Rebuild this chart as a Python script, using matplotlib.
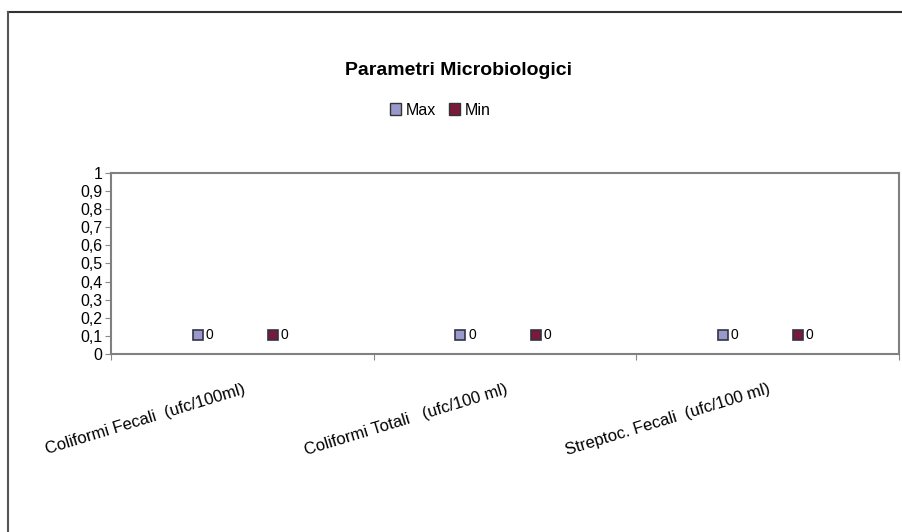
import matplotlib
matplotlib.use("Agg")
import matplotlib.pyplot as plt
import matplotlib.transforms as mtransforms
import numpy as np

plt.rcParams['font.family'] = ['Liberation Sans', 'DejaVu Sans']

categories = ['Coliformi Fecali  (ufc/100ml)', 'Coliformi Totali   (ufc/100 ml)',
              'Streptoc. Fecali  (ufc/100 ml)']
max_vals = [0, 0, 0]
min_vals = [0, 0, 0]
series = ['Max', 'Min']
colors = ['#9999CC', '#7A1A3A']
yticks = np.arange(0, 1.01, 0.1)

fig = plt.figure(figsize=(9.02, 5.32), dpi=100)
ax = fig.add_axes([0.123, 0.3346, 0.8737, 0.3402])

x = np.arange(len(categories))
w = 0.286
for vals, off, c, name in [(max_vals, -w / 2, colors[0], series[0]),
                           (min_vals, w / 2, colors[1], series[1])]:
    ax.bar(x + off, vals, w, color=c, edgecolor='#333333', label=name)
    # data labels with legend key
    key_tr = mtransforms.offset_copy(ax.transData, fig=fig, x=-5, y=14, units='points')
    ax.plot(x + off, vals, 's', ms=6.5, mfc=c, mec='#333344', mew=1.2,
            transform=key_tr, ls='none')
    for xi, v in zip(x + off, vals):
        ax.annotate(str(v), (xi, v), xytext=(0.5, 14), textcoords='offset points',
                    ha='left', va='center', fontsize=10)

ax.set_xlim(-0.5, len(categories) - 0.5)
ax.set_ylim(0, 1)
ax.set_yticks(yticks)
ax.set_yticklabels([('%g' % t).replace('.', ',') for t in yticks], fontsize=11.5)
ax.tick_params(axis='y', length=4, pad=2, color='#888888')

ax.set_xticks(np.arange(len(categories) + 1) - 0.5)
ax.set_xticklabels([])
ax.tick_params(axis='x', which='major', length=4, color='#888888')
ax.set_xticks(x, minor=True)
ax.set_xticklabels(categories, minor=True, rotation=17, ha='right',
                   rotation_mode='anchor', fontsize=12)
ax.tick_params(axis='x', which='minor', length=0, pad=20)

for s in ax.spines.values():
    s.set_color('#808080')
    s.set_linewidth(1.5)

fig.text(0.508, 0.868, 'Parametri Microbiologici', ha='center', va='center',
         fontsize=14, fontweight='bold')
leg = fig.legend(loc='center', bbox_to_anchor=(0.488, 0.793), ncol=2, frameon=False,
                 fontsize=11.5, handlelength=0.7, handleheight=0.7, handletextpad=0.3,
                 columnspacing=0.8)

# outer frame (top and left)
fig.add_artist(plt.Line2D([0.009, 1.0], [0.977, 0.977], color='#333333', lw=1.5,
                          transform=fig.transFigure))
fig.add_artist(plt.Line2D([0.009, 0.009], [0.0, 0.977], color='#555555', lw=1.5,
                          transform=fig.transFigure))

fig.savefig('out.png', dpi=100)
